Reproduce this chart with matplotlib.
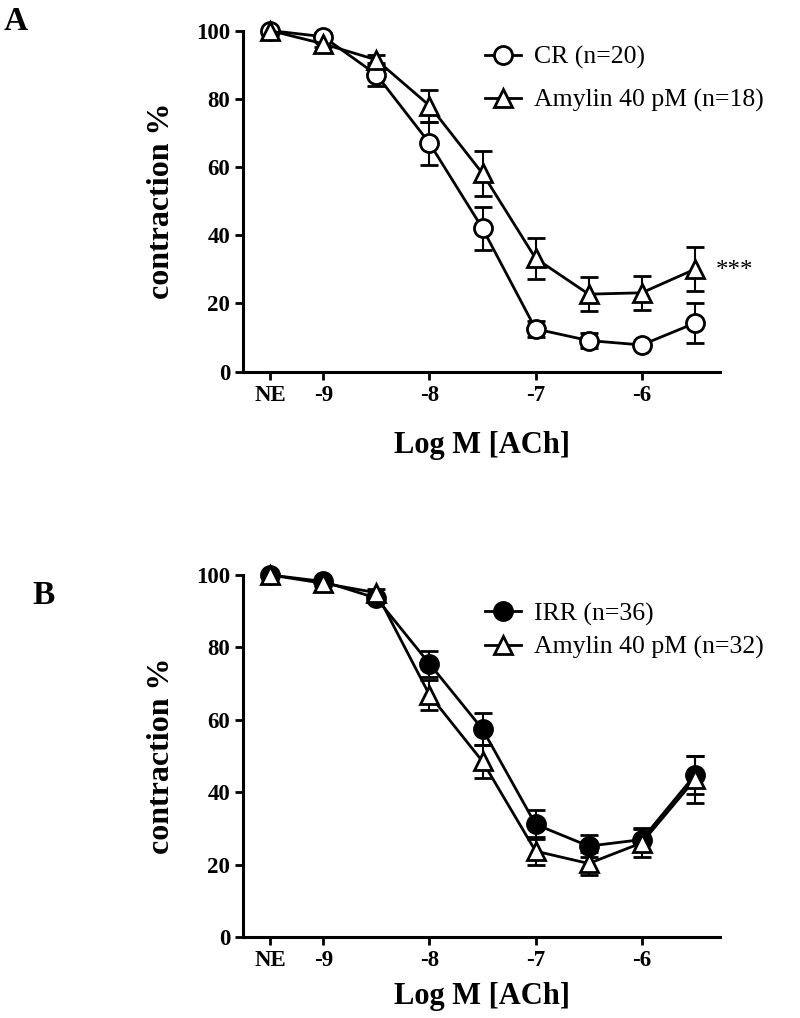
import numpy as np
import matplotlib
matplotlib.use("Agg")
import matplotlib.pyplot as plt
from matplotlib.lines import Line2D

# -----------------------------------------
# Data
# -----------------------------------------
log_ach = [-9.5, -9.0, -8.5, -8.0, -7.5, -7.0, -6.5, -6.0, -5.5]   # -9.5 = NE
tick_pos = [-9.5, -9, -8, -7, -6]
tick_lab = ["NE", "-9", "-8", "-7", "-6"]

cr_mean = [100, 98.2, 87.1, 67.0, 42.0, 12.5, 9.1, 7.8, 14.2]
cr_err = [0, 1.0, 3.5, 6.3, 6.4, 2.4, 2.3, 1.0, 5.9]
amy_a_mean = [100, 96.1, 91.4, 78.0, 58.1, 33.2, 22.7, 23.1, 30.0]
amy_a_err = [0, 1.0, 1.5, 4.7, 6.7, 6.0, 5.0, 4.9, 6.4]

irr_mean = [100, 98.2, 93.6, 75.5, 57.4, 31.1, 25.1, 26.9, 44.7]
irr_err = [0, 0.8, 1.0, 3.6, 4.5, 4.1, 3.1, 3.2, 5.2]
amy_b_mean = [100, 97.7, 95.1, 66.9, 48.5, 23.7, 20.3, 26.0, 43.5]
amy_b_err = [0, 0.8, 1.0, 4.1, 4.6, 3.9, 3.3, 3.8, 6.5]

plt.rcParams["font.family"] = ["Liberation Serif", "DejaVu Serif"]

fig = plt.figure(figsize=(8, 10.18), dpi=100)
ax_a = fig.add_axes([0.304, 0.635, 0.596, 0.335])
ax_b = fig.add_axes([0.304, 0.0796, 0.596, 0.3556])

MS = 13


def draw_series(ax, y, err, marker, face):
    ax.errorbar(log_ach, y, yerr=err, color="black", lw=2.0, marker=marker,
                markersize=MS, markerfacecolor=face, markeredgecolor="black",
                markeredgewidth=2.0, ecolor="black", elinewidth=1.5,
                capsize=6.5, capthick=1.5, clip_on=False, zorder=3)


def legend_handle(marker, face):
    return Line2D([], [], color="black", lw=2.0, marker=marker, markersize=MS,
                  markerfacecolor=face, markeredgecolor="black",
                  markeredgewidth=2.0)


def style_axes(ax, xpad):
    ax.set_xlim(-9.754, -5.263)
    ax.set_ylim(0, 100)
    ax.spines["top"].set_visible(False)
    ax.spines["right"].set_visible(False)
    ax.spines["left"].set_linewidth(2.2)
    ax.spines["bottom"].set_linewidth(2.2)
    ax.set_xticks(tick_pos)
    ax.set_xticklabels(tick_lab)
    ax.set_yticks([0, 20, 40, 60, 80, 100])
    ax.tick_params(direction="out", length=6, width=2, labelsize=16.5)
    for t in ax.get_xticklabels() + ax.get_yticklabels():
        t.set_fontweight("bold")
    ax.set_xlabel("Log M [ACh]", fontsize=22, fontweight="bold", labelpad=xpad)
    ax.set_ylabel("contraction %", fontsize=23, fontweight="bold", labelpad=14)


def add_legend(ax, handles, labels, top, spacing):
    ax.legend(handles, labels, loc="upper left", bbox_to_anchor=(0.507, top),
              frameon=False, fontsize=18.5, handlelength=1.4,
              handletextpad=0.5, labelspacing=spacing, borderpad=0,
              borderaxespad=0)


# Panel A
draw_series(ax_a, cr_mean, cr_err, "o", "white")
draw_series(ax_a, amy_a_mean, amy_a_err, "^", "white")
style_axes(ax_a, 18)
add_legend(ax_a, [legend_handle("o", "white"), legend_handle("^", "white")],
           ["CR (n=20)", "Amylin 40 pM (n=18)"], 0.955, 0.75)
ax_a.text(-5.3, 29.5, "***", fontsize=18, ha="left", va="center")
fig.text(0.004, 0.994, "A", fontsize=24, fontweight="bold", va="top")

# Panel B
draw_series(ax_b, irr_mean, irr_err, "o", "black")
draw_series(ax_b, amy_b_mean, amy_b_err, "^", "white")
style_axes(ax_b, 8)
add_legend(ax_b, [legend_handle("o", "black"), legend_handle("^", "white")],
           ["IRR (n=36)", "Amylin 40 pM (n=32)"], 0.925, 0.4)
fig.text(0.041, 0.430, "B", fontsize=24, fontweight="bold", va="top")

fig.savefig("out.png", dpi=100)
